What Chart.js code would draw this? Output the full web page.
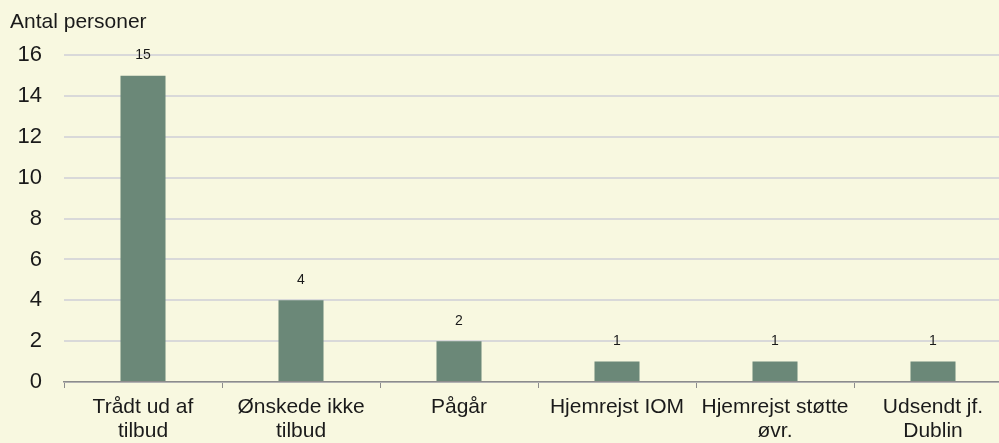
<!DOCTYPE html>
<html>
<head>
<meta charset="utf-8">
<script src="https://cdn.jsdelivr.net/npm/chart.js@4"></script>
<style>
  html, body { margin: 0; padding: 0; overflow: hidden; background: #f8f8e0; }
  #wrap { width: 1014px; height: 443px; }
</style>
</head>
<body>
<div id="wrap"><canvas id="chart" width="1014" height="443"></canvas></div>
<script>
// Category labels (split into lines as in the original)
const categories = [
    ['Trådt ud af', 'tilbud'],
    ['Ønskede ikke', 'tilbud'],
    ['Pågår'],
    ['Hjemrejst IOM'],
    ['Hjemrejst støtte', 'øvr.'],
    ['Udsendt jf.', 'Dublin']
];
const persons = [15, 4, 2, 1, 1, 1];
const yTicks = [0, 2, 4, 6, 8, 10, 12, 14, 16];
const axisTitle = 'Antal personer';

const FONT = "'Liberation Sans', Arial, sans-serif";

// Value labels above each bar
const valueLabels = {
    id: 'valueLabels',
    afterDatasetsDraw(chart) {
        const ctx = chart.ctx;
        const meta = chart.getDatasetMeta(0);
        ctx.save();
        ctx.fillStyle = '#1a1a1a';
        ctx.font = '14px ' + FONT;
        ctx.textAlign = 'center';
        ctx.textBaseline = 'middle';
        meta.data.forEach((bar, i) => {
            ctx.fillText(String(persons[i]), bar.x, bar.y - 20);
        });
        ctx.restore();
    }
};

new Chart(document.getElementById('chart'), {
    type: 'bar',
    data: {
        labels: categories,
        datasets: [{
            data: persons,
            backgroundColor: '#6b8878',
            categoryPercentage: 0.57,
            barPercentage: 0.5
        }]
    },
    options: {
        responsive: false,
        animation: false,
        devicePixelRatio: 1,
        layout: { padding: { left: 10, right: 2, top: 0, bottom: 0 } },
        plugins: {
            legend: { display: false },
            tooltip: { enabled: false },
            title: {
                display: true,
                text: axisTitle,
                align: 'start',
                color: '#1a1a1a',
                font: { family: FONT, size: 21, weight: 'normal' },
                padding: { top: 10, bottom: 20 }
            }
        },
        scales: {
            x: {
                offset: true,
                grid: {
                    offset: true,
                    drawOnChartArea: false,
                    drawTicks: true,
                    tickLength: 6,
                    color: '#8c8c8c'
                },
                border: { color: '#8c8c8c', width: 1.5 },
                ticks: {
                    color: '#1a1a1a',
                    padding: 7,
                    maxRotation: 0,
                    autoSkip: false,
                    font: { family: FONT, size: 21, lineHeight: 1.15 }
                },
                afterFit(scale) { scale.height = 61; }
            },
            y: {
                min: 0,
                max: 16,
                afterBuildTicks(scale) { scale.ticks = yTicks.map(v => ({ value: v })); },
                grid: { drawTicks: false, color: '#d9d9d9', lineWidth: 2 },
                border: { display: false },
                ticks: {
                    color: '#1a1a1a',
                    padding: 22,
                    font: { family: FONT, size: 22 }
                },
                afterFit(scale) { scale.width = 54; }
            }
        }
    },
    plugins: [valueLabels]
});
</script>
</body>
</html>
